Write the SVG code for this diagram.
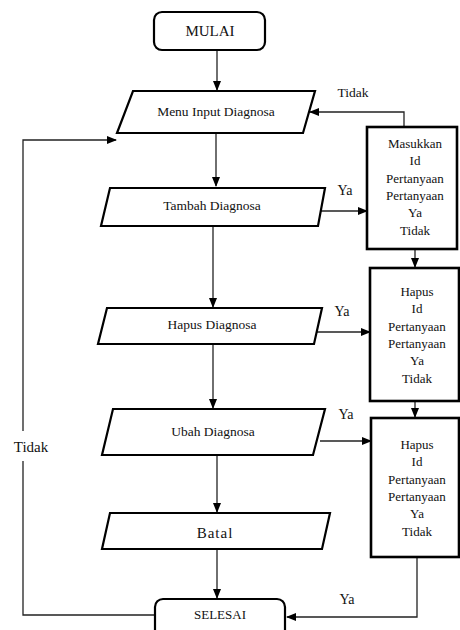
<svg xmlns="http://www.w3.org/2000/svg" width="460" height="630" viewBox="0 0 460 630">
<style>
.n{fill:#fff;stroke:#000;stroke-width:2.2}
.b{fill:#fff;stroke:#000;stroke-width:2.6}
.t{font-family:"Liberation Serif","Times New Roman",serif;fill:#111;text-anchor:middle}
.c{fill:none;stroke:#222;stroke-width:1.3}
</style>
<defs>
<marker id="ah" markerWidth="10" markerHeight="8" refX="9" refY="4" orient="auto" markerUnits="userSpaceOnUse">
<path d="M0,0 L10,4 L0,8 Z" fill="#000"/>
</marker>
</defs>
<g id="connectors">
<line class="c" x1="217" y1="50" x2="217" y2="90" marker-end="url(#ah)"/>
<line class="c" x1="216" y1="133" x2="216" y2="186" marker-end="url(#ah)"/>
<line class="c" x1="213" y1="226" x2="213" y2="307" marker-end="url(#ah)"/>
<line class="c" x1="213" y1="344" x2="213" y2="408" marker-end="url(#ah)"/>
<line class="c" x1="217" y1="455" x2="217" y2="512" marker-end="url(#ah)"/>
<line class="c" x1="217" y1="549" x2="217" y2="598" marker-end="url(#ah)"/>
<polyline class="c" points="404,127 404,112 310,112" marker-end="url(#ah)"/>
<line class="c" x1="319" y1="211" x2="367" y2="211" marker-end="url(#ah)"/>
<line class="c" x1="316" y1="332" x2="370" y2="332" marker-end="url(#ah)"/>
<line class="c" x1="320" y1="441" x2="371" y2="441" marker-end="url(#ah)"/>
<line class="c" x1="415" y1="249" x2="415" y2="267" marker-end="url(#ah)"/>
<line class="c" x1="415" y1="401" x2="415" y2="417" marker-end="url(#ah)"/>
<polyline class="c" points="417,557 417,617 287,617" marker-end="url(#ah)"/>
<polyline class="c" points="155,615 23,615 23,461"/>
<polyline class="c" points="23,431 23,140 116,140" marker-end="url(#ah)"/>
<text class="t" x="353" y="97" font-size="13.5">Tidak</text>
<text class="t" x="345" y="195" font-size="14">Ya</text>
<text class="t" x="342" y="316" font-size="14">Ya</text>
<text class="t" x="346" y="419" font-size="14">Ya</text>
<text class="t" x="347" y="604" font-size="14">Ya</text>
<text class="t" x="31" y="452" font-size="15">Tidak</text>
</g>
<g id="mulai">
<rect class="n" x="154" y="12" width="111" height="38" rx="8"/>
<text class="t" x="210" y="36" font-size="15">MULAI</text>
</g>
<g id="menu">
<polygon class="n" points="133,91 315,91 303,133 117,133"/>
<text class="t" x="216" y="116" font-size="13.5">Menu Input Diagnosa</text>
</g>
<g id="tambah">
<polygon class="n" points="110,188 325,188 318,226 101,226"/>
<text class="t" x="212" y="210" font-size="13.5">Tambah Diagnosa</text>
</g>
<g id="hapus">
<polygon class="n" points="107,308 322,308 314,344 98,344"/>
<text class="t" x="212" y="329" font-size="13.5">Hapus Diagnosa</text>
</g>
<g id="ubah">
<polygon class="n" points="113,409 325,409 313,455 102,455"/>
<text class="t" x="213" y="436" font-size="13.5">Ubah Diagnosa</text>
</g>
<g id="batal">
<polygon class="n" points="110,513 330,513 322,549 102,549"/>
<text class="t" x="215" y="538" font-size="15" letter-spacing="1">Batal</text>
</g>
<g id="selesai">
<rect class="n" x="155" y="599" width="130" height="45" rx="8"/>
<text class="t" x="220" y="619" font-size="13">SELESAI</text>
</g>
<g id="masukkan">
<rect class="b" x="367" y="127" width="90" height="122"/>
<text class="t" font-size="13"><tspan x="415" y="148">Masukkan</tspan><tspan x="415" y="165">Id</tspan><tspan x="415" y="183">Pertanyaan</tspan><tspan x="415" y="200">Pertanyaan</tspan><tspan x="415" y="217">Ya</tspan><tspan x="415" y="235">Tidak</tspan></text>
</g>
<g id="hapus-box">
<rect class="b" x="370" y="268" width="89" height="133"/>
<text class="t" font-size="13"><tspan x="417" y="296">Hapus</tspan><tspan x="417" y="313">Id</tspan><tspan x="417" y="331">Pertanyaan</tspan><tspan x="417" y="348">Pertanyaan</tspan><tspan x="417" y="365">Ya</tspan><tspan x="417" y="383">Tidak</tspan></text>
</g>
<g id="ubah-box">
<rect class="b" x="371" y="418" width="88" height="139"/>
<text class="t" font-size="13"><tspan x="417" y="449">Hapus</tspan><tspan x="417" y="466">Id</tspan><tspan x="417" y="484">Pertanyaan</tspan><tspan x="417" y="501">Pertanyaan</tspan><tspan x="417" y="518">Ya</tspan><tspan x="417" y="536">Tidak</tspan></text>
</g>
</svg>
